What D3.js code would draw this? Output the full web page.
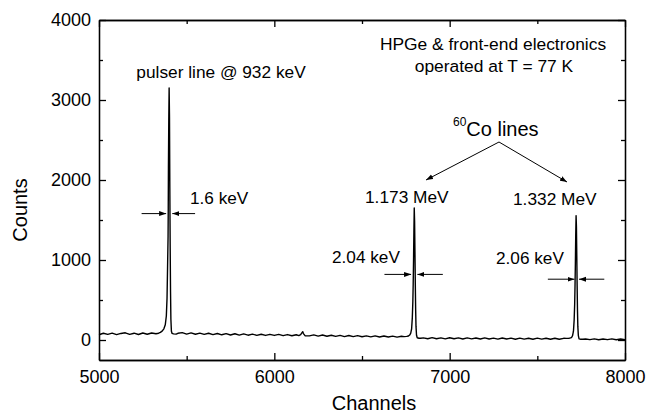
<!DOCTYPE html>
<html>
<head>
<meta charset="utf-8">
<script src="https://cdn.jsdelivr.net/npm/d3@7"></script>
<style>
  body { margin: 0; background: #fff; }
  svg { display: block; font-family: "Liberation Sans", Arial, sans-serif; }
  .axis path, .axis line { stroke: #000; stroke-width: 1.3; }
  .axis text { font-size: 18px; fill: #000; }
</style>
</head>
<body>
<div id="chart"></div>
<script>
// background continuum [channel, counts]
const background = [
  [5000, 66], [5025, 84], [5050, 70], [5075, 86], [5100, 68], [5125, 82], [5150, 90], [5175, 71],
  [5200, 85], [5225, 69], [5250, 87], [5275, 72], [5300, 88], [5325, 78],
  [5450, 84], [5475, 92], [5500, 74], [5525, 89], [5550, 72], [5575, 86], [5600, 70], [5625, 84],
  [5650, 67], [5675, 81], [5700, 65], [5725, 80], [5750, 63], [5775, 78], [5800, 61], [5825, 76],
  [5850, 60], [5875, 74], [5900, 58], [5925, 72], [5950, 57], [5975, 71], [6000, 57], [6025, 70],
  [6050, 54], [6075, 68], [6100, 53], [6125, 66], [6140, 55], [6150, 66], [6158, 92], [6162, 104],
  [6166, 80], [6175, 54], [6200, 51], [6225, 64], [6250, 49], [6275, 62], [6300, 47], [6325, 60],
  [6350, 45], [6375, 58], [6400, 43], [6425, 56], [6450, 42], [6475, 54], [6500, 40], [6525, 52],
  [6550, 39], [6575, 51], [6600, 38], [6625, 50], [6650, 37], [6675, 49], [6700, 36], [6725, 47],
  [6850, 27], [6875, 16], [6900, 29], [6925, 15], [6950, 27], [6975, 14], [7000, 28], [7025, 15],
  [7050, 26], [7075, 13], [7100, 27], [7125, 14], [7150, 25], [7175, 12], [7200, 26], [7225, 13],
  [7250, 24], [7275, 11], [7300, 25], [7325, 12], [7350, 23], [7375, 10], [7400, 24], [7425, 11],
  [7450, 22], [7475, 10], [7500, 23], [7525, 11], [7550, 22], [7575, 9], [7600, 22], [7625, 10],
  [7650, 21],
  [7775, 13], [7800, 4], [7825, 14], [7850, 3], [7875, 13], [7900, 4], [7925, 14], [7950, 3],
  [7975, 12], [8000, 5]
]

// pulser line @ 932 keV
const pulserPeak = [
  [5340, 85], [5350, 95], [5360, 110], [5370, 140], [5378, 190], [5384, 300], [5388, 520],
  [5391, 900], [5394, 1300], [5395, 1650], [5396, 2150], [5398, 2750], [5400, 3150], [5402, 2800],
  [5404, 1900], [5405, 1500], [5406, 1150], [5408, 600], [5410, 260], [5413, 110], [5417, 82],
  [5425, 76], [5440, 74]
]

// 60Co 1.173 MeV
const co1173Peak = [
  [6740, 42], [6755, 45], [6765, 50], [6772, 62], [6778, 85], [6783, 140], [6787, 280],
  [6790, 480], [6792, 700], [6794, 1000], [6796, 1350], [6798, 1650], [6800, 1480], [6802, 1100],
  [6804, 700], [6806, 380], [6808, 170], [6811, 60], [6815, 28], [6825, 22], [6835, 22]
]

// 60Co 1.332 MeV
const co1332Peak = [
  [7665, 20], [7680, 22], [7690, 26], [7696, 34], [7701, 55], [7706, 110], [7710, 250],
  [7713, 450], [7715, 680], [7717, 960], [7719, 1300], [7721, 1555], [7723, 1420], [7725, 1060],
  [7727, 680], [7729, 370], [7731, 170], [7734, 55], [7738, 15], [7745, 10], [7760, 9]
]

const xMajor = [5000, 6000, 7000, 8000]
const xMinor = [5500, 6500, 7500]
const yMajor = [0, 1000, 2000, 3000, 4000]
const yMinor = [500, 1500, 2500, 3500]

// FWHM markers: [left arrow start, left arrow tip, right arrow tip, right arrow start, counts]
const fwhmMarks = [
  { label: "1.6 keV", x: [5243, 5383, 5418, 5548], y: 1580 },
  { label: "2.04 keV", x: [6628, 6780, 6816, 6961], y: 820 },
  { label: "2.06 keV", x: [7560, 7712, 7738, 7882], y: 760 }
]

const spectrum = background.concat(pulserPeak, co1173Peak, co1332Peak)
  .sort((a, b) => a[0] - b[0])

var width = 649, height = 414
var margin = { top: 20, right: 24, bottom: 54, left: 99 }
var w = width - margin.left - margin.right
var h = height - margin.top - margin.bottom

const svg = d3.select("#chart").append("svg")
  .attr("width", width)
  .attr("height", height)

svg.append("defs").append("marker")
  .attr("id", "head")
  .attr("viewBox", "0 -3 7 6")
  .attr("refX", 7)
  .attr("refY", 0)
  .attr("markerUnits", "userSpaceOnUse")
  .attr("markerWidth", 7)
  .attr("markerHeight", 6)
  .attr("orient", "auto")
  .append("path")
  .attr("d", "M0,-2.5L7,0L0,2.5Z")
  .attr("fill", "#000")

const g = svg.append("g")
  .attr("transform", "translate(" + margin.left + "," + margin.top + ")")

const xScale = d3.scaleLinear().domain([5000, 8000]).range([0, w])
const yScale = d3.scaleLinear().domain([-250, 4000]).range([h, 0])

// axes, ticks pointing inward on all four sides
g.append("g").attr("class", "axis")
  .attr("transform", "translate(0," + h + ")")
  .call(d3.axisBottom(xScale).tickValues(xMajor).tickSizeInner(-7).tickSizeOuter(0).tickPadding(10).tickFormat(d3.format("d")))
g.append("g").attr("class", "axis")
  .attr("transform", "translate(0," + h + ")")
  .call(d3.axisBottom(xScale).tickValues(xMinor).tickSizeInner(-4).tickSizeOuter(0).tickFormat(""))
g.append("g").attr("class", "axis")
  .call(d3.axisTop(xScale).tickValues(xMajor).tickSizeInner(-7).tickSizeOuter(0).tickFormat(""))
g.append("g").attr("class", "axis")
  .call(d3.axisTop(xScale).tickValues(xMinor).tickSizeInner(-4).tickSizeOuter(0).tickFormat(""))

g.append("g").attr("class", "axis")
  .call(d3.axisLeft(yScale).tickValues(yMajor).tickSizeInner(-7).tickSizeOuter(0).tickPadding(8).tickFormat(d3.format("d")))
g.append("g").attr("class", "axis")
  .call(d3.axisLeft(yScale).tickValues(yMinor).tickSizeInner(-4).tickSizeOuter(0).tickFormat(""))
g.append("g").attr("class", "axis")
  .attr("transform", "translate(" + w + ",0)")
  .call(d3.axisRight(yScale).tickValues(yMajor).tickSizeInner(-7).tickSizeOuter(0).tickFormat(""))
g.append("g").attr("class", "axis")
  .attr("transform", "translate(" + w + ",0)")
  .call(d3.axisRight(yScale).tickValues(yMinor).tickSizeInner(-4).tickSizeOuter(0).tickFormat(""))

// spectrum
g.append("path")
  .datum(spectrum)
  .attr("fill", "none")
  .attr("stroke", "#000")
  .attr("stroke-width", 1.4)
  .attr("stroke-linejoin", "round")
  .attr("d", d3.line()
    .x(d => xScale(d[0]))
    .y(d => yScale(d[1])))

// FWHM arrows
fwhmMarks.forEach(m => {
  g.append("line")
    .attr("x1", xScale(m.x[0])).attr("x2", xScale(m.x[1]))
    .attr("y1", yScale(m.y)).attr("y2", yScale(m.y))
    .attr("stroke", "#000").attr("stroke-width", 1)
    .attr("marker-end", "url(#head)")
  g.append("line")
    .attr("x1", xScale(m.x[3])).attr("x2", xScale(m.x[2]))
    .attr("y1", yScale(m.y)).attr("y2", yScale(m.y))
    .attr("stroke", "#000").attr("stroke-width", 1)
    .attr("marker-end", "url(#head)")
})

function addText(x, y, txt, size, anchor) {
  return svg.append("text")
    .attr("x", x)
    .attr("y", y)
    .attr("text-anchor", anchor || "start")
    .style("font-size", size + "px")
    .attr("fill", "#000")
    .text(txt)
}

addText(221, 78, "pulser line @ 932 keV", 17.3, "middle")
addText(493, 50, "HPGe & front-end electronics", 17.4, "middle")
addText(494, 72, "operated at T = 77 K", 17.4, "middle")
addText(365, 203, "1.173 MeV", 17.3)
addText(513, 205, "1.332 MeV", 17.3)
addText(190, 204, fwhmMarks[0].label, 17.2)
addText(332, 263, fwhmMarks[1].label, 17.2)
addText(496, 264, fwhmMarks[2].label, 17.2)

// 60Co label with superscript
const co = svg.append("text")
  .attr("x", 453)
  .attr("y", 136)
  .attr("fill", "#000")
co.append("tspan")
  .attr("dy", -10)
  .style("font-size", "12px")
  .text("60")
co.append("tspan")
  .attr("dy", 10)
  .style("font-size", "20px")
  .text("Co lines")

// arrows from the 60Co label to the two peaks
svg.append("line")
  .attr("x1", 499).attr("y1", 142).attr("x2", 426).attr("y2", 180)
  .attr("stroke", "#000").attr("stroke-width", 1).attr("marker-end", "url(#head)")
svg.append("line")
  .attr("x1", 499).attr("y1", 142).attr("x2", 567).attr("y2", 182)
  .attr("stroke", "#000").attr("stroke-width", 1).attr("marker-end", "url(#head)")

// axis titles
addText(374, 410, "Channels", 20, "middle")
svg.append("text")
  .attr("text-anchor", "middle")
  .attr("transform", "translate(27,210)rotate(-90)")
  .style("font-size", "20px")
  .attr("fill", "#000")
  .text("Counts")
</script>
</body>
</html>
